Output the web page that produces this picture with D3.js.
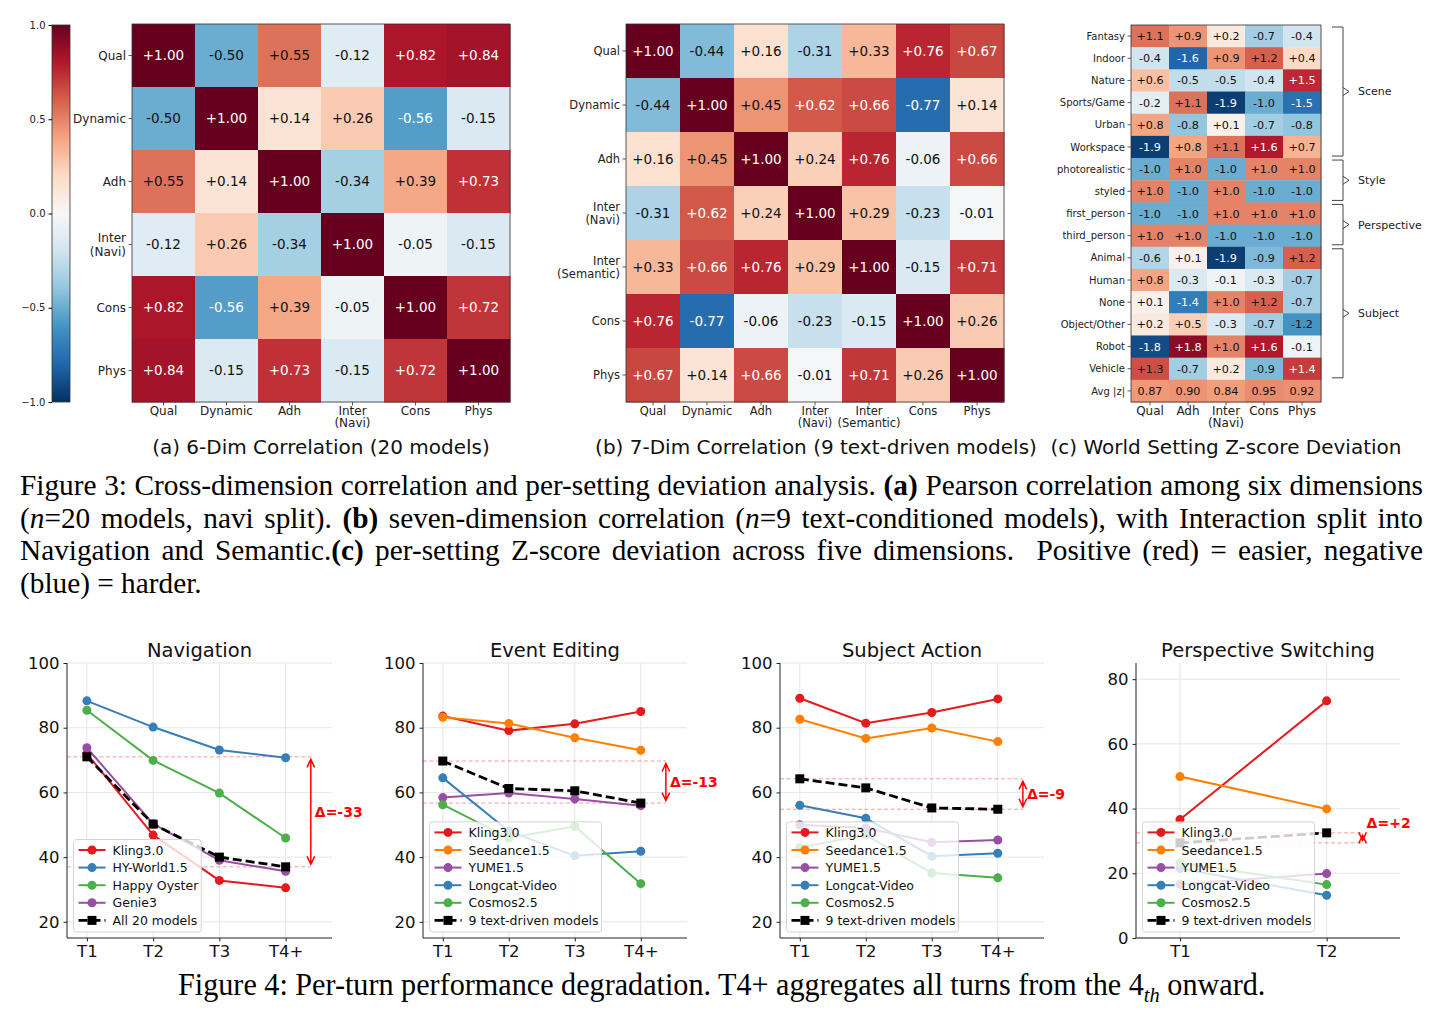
<!DOCTYPE html>
<html lang="en">
<head>
<meta charset="UTF-8">
<title>Figure 3 / Figure 4</title>
<script src="https://cdn.jsdelivr.net/npm/d3@7"></script>
<style>
  body { margin: 0; background: #fff; }
  #wrap { position: relative; width: 1443px; height: 1023px; overflow: hidden; }
  #wrap svg { position: absolute; left: 0; top: 0; }
  .cap { position: absolute; left: 20px; top: 469px; width: 1403px;
         font-family: "Liberation Serif", "Times New Roman", serif; font-size: 29.3px;
         line-height: 32.5px; color: #000; }
  .cap div { text-align: justify; text-align-last: justify; white-space: nowrap; }
  .cap div.last { text-align-last: left; }
</style>
</head>
<body>
<div id="wrap">
  <div class="cap">
    <div>Figure 3: Cross-dimension correlation and per-setting deviation analysis. <b>(a)</b> Pearson correlation among six dimensions</div>
    <div>(<i>n</i>=20 models, navi split). <b>(b)</b> seven-dimension correlation (<i>n</i>=9 text-conditioned models), with Interaction split into</div>
    <div>Navigation and Semantic.<b>(c)</b> per-setting Z-score deviation across five dimensions. &nbsp;Positive (red) = easier, negative</div>
    <div class="last">(blue) = harder.</div>
  </div>
</div>

<script>
// ---- data: (a) 6-dim correlation, 20 models
const dimsA = ["Qual", "Dynamic", "Adh", "Inter\n(Navi)", "Cons", "Phys"];
const corrA = [
  [ 1.00, -0.50,  0.55, -0.12,  0.82,  0.84],
  [-0.50,  1.00,  0.14,  0.26, -0.56, -0.15],
  [ 0.55,  0.14,  1.00, -0.34,  0.39,  0.73],
  [-0.12,  0.26, -0.34,  1.00, -0.05, -0.15],
  [ 0.82, -0.56,  0.39, -0.05,  1.00,  0.72],
  [ 0.84, -0.15,  0.73, -0.15,  0.72,  1.00]
];

// ---- data: (b) 7-dim correlation, 9 text-driven models
const dimsB = ["Qual", "Dynamic", "Adh", "Inter\n(Navi)", "Inter\n(Semantic)", "Cons", "Phys"];
const corrB = [
  [ 1.00, -0.44,  0.16, -0.31,  0.33,  0.76,  0.67],
  [-0.44,  1.00,  0.45,  0.62,  0.66, -0.77,  0.14],
  [ 0.16,  0.45,  1.00,  0.24,  0.76, -0.06,  0.66],
  [-0.31,  0.62,  0.24,  1.00,  0.29, -0.23, -0.01],
  [ 0.33,  0.66,  0.76,  0.29,  1.00, -0.15,  0.71],
  [ 0.76, -0.77, -0.06, -0.23, -0.15,  1.00,  0.26],
  [ 0.67,  0.14,  0.66, -0.01,  0.71,  0.26,  1.00]
];

// ---- data: (c) world setting z-score deviation
const zDims = ["Qual", "Adh", "Inter\n(Navi)", "Cons", "Phys"];
const zSettings = ["Fantasy", "Indoor", "Nature", "Sports/Game", "Urban", "Workspace",
  "photorealistic", "styled", "first_person", "third_person",
  "Animal", "Human", "None", "Object/Other", "Robot", "Vehicle"];
const zScores = [
  [ 1.1,  0.9,  0.2, -0.7, -0.4],
  [-0.4, -1.6,  0.9,  1.2,  0.4],
  [ 0.6, -0.5, -0.5, -0.4,  1.5],
  [-0.2,  1.1, -1.9, -1.0, -1.5],
  [ 0.8, -0.8,  0.1, -0.7, -0.8],
  [-1.9,  0.8,  1.1,  1.6,  0.7],
  [-1.0,  1.0, -1.0,  1.0,  1.0],
  [ 1.0, -1.0,  1.0, -1.0, -1.0],
  [-1.0, -1.0,  1.0,  1.0,  1.0],
  [ 1.0,  1.0, -1.0, -1.0, -1.0],
  [-0.6,  0.1, -1.9, -0.9,  1.2],
  [ 0.8, -0.3, -0.1, -0.3, -0.7],
  [ 0.1, -1.4,  1.0,  1.2, -0.7],
  [ 0.2,  0.5, -0.3, -0.7, -1.2],
  [-1.8,  1.8,  1.0,  1.6, -0.1],
  [ 1.3, -0.7,  0.2, -0.9,  1.4]
];
const avgAbsZ = [0.87, 0.90, 0.84, 0.95, 0.92];
const settingGroups = [
  {name: "Scene", from: 0, to: 5},
  {name: "Style", from: 6, to: 7},
  {name: "Perspective", from: 8, to: 9},
  {name: "Subject", from: 10, to: 15}
];

// ---- data: per-turn scores
const turns4 = ["T1", "T2", "T3", "T4+"];
const turns2 = ["T1", "T2"];
const navNames = ["Kling3.0", "HY-World1.5", "Happy Oyster", "Genie3", "All 20 models"];
const navValues = [
  [72.0, 46.8, 32.8, 30.5],
  [88.3, 80.2, 73.1, 70.7],
  [85.4, 69.9, 59.8, 45.9],
  [73.8, 50.3, 39.0, 35.6],
  [71.0, 50.2, 40.0, 37.0]
];
const textNames = ["Kling3.0", "Seedance1.5", "YUME1.5", "Longcat-Video", "Cosmos2.5", "9 text-driven models"];
const editValues = [
  [83.6, 79.1, 81.2, 85.0],
  [83.2, 81.3, 76.9, 73.0],
  [58.4, 59.8, 58.0, 55.9],
  [64.5, 48.0, 40.4, 41.8],
  [56.2, 45.9, 49.5, 31.8],
  [69.7, 61.2, 60.5, 56.7]
];
const actionValues = [
  [89.1, 81.4, 84.7, 88.9],
  [82.6, 76.7, 79.9, 75.7],
  [50.0, 49.0, 44.6, 45.3],
  [56.0, 52.0, 40.3, 41.2],
  [43.0, 46.8, 35.1, 33.6],
  [64.2, 61.4, 55.2, 54.8]
];
const perspValues = [
  [36.6, 73.3],
  [49.9, 39.9],
  [16.6, 19.9],
  [21.5, 13.2],
  [23.2, 16.5],
  [29.4, 32.5]
];
const deltaLabels = ["Δ=-33", "Δ=-13", "Δ=-9", "Δ=+2"];

// ---- styles
const FONT = "DejaVu Sans";
const navColors = ["#e41a1c", "#377eb8", "#4daf4a", "#984ea3", "#000"];
const textColors = ["#e41a1c", "#ff7f00", "#984ea3", "#377eb8", "#4daf4a", "#000"];
const rdbuR = ["#053061", "#2166ac", "#4393c3", "#92c5de", "#d1e5f0", "#f7f7f7",
               "#fddbc7", "#f4a582", "#d6604d", "#b2182b", "#67001f"];
function divergent(lim) {
  return d3.scaleLinear()
    .domain(d3.range(11).map(i => -lim + i * lim / 5))
    .range(rdbuR).clamp(true);
}

const svg = d3.select("#wrap").append("svg").attr("width", 1443).attr("height", 1023);

// ---------------- heatmaps ----------------
function heatmap(o) {
  const g = svg.append("g");
  const nr = o.values.length, nc = o.cols.length;
  const x = d3.scaleBand().domain(d3.range(nc)).range([o.x0, o.x0 + o.width]);
  const y = d3.scaleBand().domain(d3.range(nr)).range([o.y0, o.y0 + o.height]);
  const cells = [];
  o.values.forEach((row, i) => row.forEach((v, j) => cells.push({i, j, v})));

  g.selectAll("rect.cell").data(cells).join("rect").attr("class", "cell")
    .attr("x", d => x(d.j)).attr("y", d => y(d.i))
    .attr("width", x.bandwidth() + 0.5).attr("height", y.bandwidth() + 0.5)
    .attr("fill", d => o.fill(d));
  g.selectAll("text.val").data(cells).join("text").attr("class", "val")
    .attr("x", d => x(d.j) + x.bandwidth() / 2)
    .attr("y", d => y(d.i) + y.bandwidth() / 2)
    .attr("dy", "0.36em").attr("text-anchor", "middle")
    .attr("font-family", FONT).attr("font-size", o.valSize)
    .attr("fill", d => o.ink(d)).text(d => o.fmt(d));
  g.append("rect").attr("x", o.x0).attr("y", o.y0).attr("width", o.width).attr("height", o.height)
    .attr("fill", "none").attr("stroke", "#333").attr("stroke-width", 0.8);

  // row labels + ticks
  o.rows.forEach((lab, i) => {
    const cy = y(i) + y.bandwidth() / 2;
    g.append("line").attr("x1", o.x0 - 3.5).attr("x2", o.x0).attr("y1", cy).attr("y2", cy)
      .attr("stroke", "#333").attr("stroke-width", 0.8);
    const lines = lab.split("\n");
    const t = g.append("text").attr("text-anchor", "end").attr("font-family", FONT)
      .attr("font-size", o.rowSize).attr("fill", "#222");
    lines.forEach((s, k) => {
      t.append("tspan").attr("x", o.x0 - 6)
        .attr("y", cy + (k - (lines.length - 1) / 2) * o.rowSize * 1.15 + o.rowSize * 0.36).text(s);
    });
  });
  // column labels + ticks
  o.cols.forEach((lab, j) => {
    const cx = x(j) + x.bandwidth() / 2, by = o.y0 + o.height;
    g.append("line").attr("x1", cx).attr("x2", cx).attr("y1", by).attr("y2", by + 3.5)
      .attr("stroke", "#333").attr("stroke-width", 0.8);
    const t = g.append("text").attr("text-anchor", "middle").attr("font-family", FONT)
      .attr("font-size", o.colSize).attr("fill", "#222");
    lab.split("\n").forEach((s, k) => {
      t.append("tspan").attr("x", cx).attr("y", by + 12.5 + k * o.colSize * 1.05).text(s);
    });
  });
  return {x, y};
}

const colA = divergent(1);
heatmap({
  x0: 132, y0: 24, width: 378, height: 378, rows: dimsA, cols: dimsA, values: corrA,
  fill: d => colA(d.v), ink: d => Math.abs(d.v) > 0.555 ? "#fff" : "#111",
  fmt: d => (d.v >= 0 ? "+" : "-") + Math.abs(d.v).toFixed(2),
  valSize: 13.5, rowSize: 12, colSize: 12
});
heatmap({
  x0: 626, y0: 24, width: 378, height: 378, rows: dimsB, cols: dimsB, values: corrB,
  fill: d => colA(d.v), ink: d => Math.abs(d.v) > 0.555 ? "#fff" : "#111",
  fmt: d => (d.v >= 0 ? "+" : "-") + Math.abs(d.v).toFixed(2),
  valSize: 13.5, rowSize: 11.5, colSize: 11.5
});

const colC = divergent(2);
const zRowsAll = zScores.concat([avgAbsZ]);
const hmC = heatmap({
  x0: 1131, y0: 25, width: 190, height: 377, rows: zSettings.concat(["Avg |z|"]), cols: zDims,
  values: zRowsAll,
  fill: d => colC(d.v),
  ink: d => (d.i < zScores.length && Math.abs(d.v) > 1.35) ? "#fff" : "#111",
  fmt: d => d.i < zScores.length ? (d.v >= 0 ? "+" : "-") + Math.abs(d.v).toFixed(1) : d.v.toFixed(2),
  valSize: 11.2, rowSize: 10, colSize: 12
});

// brackets for setting groups
settingGroups.forEach(gr => {
  const y1 = hmC.y(gr.from) + 2, y2 = hmC.y(gr.to) + hmC.y.bandwidth() - 2;
  const xm = 1343, mid = (y1 + y2) / 2;
  svg.append("path")
    .attr("d", `M1332,${y1}H${xm}V${y2}H1332M${xm},${mid - 4}L${xm + 6},${mid}L${xm},${mid + 4}`)
    .attr("fill", "none").attr("stroke", "#444").attr("stroke-width", 1);
  svg.append("text").attr("x", 1358).attr("y", mid).attr("dy", "0.36em")
    .attr("font-family", FONT).attr("font-size", 11).attr("fill", "#222").text(gr.name);
});

// colorbar for (a)
(function () {
  const cb = {x: 52, y: 25, w: 18, h: 377};
  const grad = svg.append("defs").append("linearGradient").attr("id", "cbgrad")
    .attr("x1", 0).attr("y1", 1).attr("x2", 0).attr("y2", 0);
  rdbuR.forEach((c, i) => grad.append("stop").attr("offset", i / 10).attr("stop-color", c));
  svg.append("rect").attr("x", cb.x).attr("y", cb.y).attr("width", cb.w).attr("height", cb.h)
    .attr("fill", "url(#cbgrad)").attr("stroke", "#333").attr("stroke-width", 0.8);
  const s = d3.scaleLinear().domain([-1, 1]).range([cb.y + cb.h, cb.y]);
  const ax = svg.append("g").attr("transform", `translate(${cb.x},0)`)
    .call(d3.axisLeft(s).tickValues([-1, -0.5, 0, 0.5, 1]).tickFormat(d3.format(".1f"))
      .tickSize(3.5).tickSizeOuter(0));
  ax.select(".domain").remove();
  ax.selectAll("text").attr("font-family", FONT).attr("font-size", 10).attr("fill", "#222");
})();

// sub-captions
[["(a) 6-Dim Correlation (20 models)", 321],
 ["(b) 7-Dim Correlation (9 text-driven models)", 816],
 ["(c) World Setting Z-score Deviation", 1226]].forEach(([t, cx]) => {
  svg.append("text").attr("x", cx).attr("y", 454).attr("text-anchor", "middle")
    .attr("font-family", FONT).attr("font-size", 20).attr("fill", "#111").text(t);
});

// ---------------- line charts ----------------
function lineChart(o) {
  const g = svg.append("g");
  const idx = d3.range(o.turns.length);
  const x = d3.scaleLinear().domain(o.xdom).range([o.left, o.right]);
  const y = d3.scaleLinear().domain(o.ydom).range([o.bottom, o.top]);

  // grid
  g.selectAll("line.gy").data(o.yticks).join("line").attr("class", "gy")
    .attr("x1", o.left).attr("x2", o.right).attr("y1", d => y(d)).attr("y2", d => y(d))
    .attr("stroke", "#e3e3e3").attr("stroke-width", 0.9);
  g.selectAll("line.gx").data(idx).join("line").attr("class", "gx")
    .attr("x1", d => x(d)).attr("x2", d => x(d)).attr("y1", o.top).attr("y2", o.bottom)
    .attr("stroke", "#e3e3e3").attr("stroke-width", 0.9);

  // axes
  const ay = g.append("g").attr("transform", `translate(${o.left},0)`)
    .call(d3.axisLeft(y).tickValues(o.yticks).tickSize(3.5).tickSizeOuter(0).tickPadding(4));
  const ax = g.append("g").attr("transform", `translate(0,${o.bottom})`)
    .call(d3.axisBottom(x).tickValues(idx).tickFormat(i => o.turns[i]).tickSize(3.5).tickSizeOuter(0).tickPadding(4));
  [ay, ax].forEach(a => {
    a.selectAll("text").attr("font-family", FONT).attr("font-size", 16.5).attr("fill", "#111");
    a.selectAll("line, path").attr("stroke", "#222").attr("stroke-width", 1);
  });
  ay.select(".domain").attr("d", `M0,${o.top}V${o.bottom}`);
  ax.select(".domain").attr("d", `M${o.left},0H${o.right}`);

  // title
  g.append("text").attr("x", (o.left + o.right) / 2).attr("y", o.top - 6)
    .attr("text-anchor", "middle").attr("font-family", FONT).attr("font-size", 19.5)
    .attr("fill", "#111").text(o.title);

  // reference lines at mean T1 / last
  const avg = o.values[o.values.length - 1];
  const a0 = avg[0], a1 = avg[avg.length - 1];
  const xa = x(o.arrowAt);
  [a0, a1].forEach(v => {
    g.append("line").attr("x1", o.left).attr("x2", xa).attr("y1", y(v)).attr("y2", y(v))
      .attr("stroke", "#ff0000").attr("stroke-opacity", 0.4).attr("stroke-width", 1)
      .attr("stroke-dasharray", "4,2.5");
  });

  // series
  const line = d3.line().x((d, i) => x(i)).y(d => y(d));
  o.values.forEach((vals, k) => {
    const isAvg = k === o.values.length - 1;
    const c = o.colors[k];
    g.append("path").datum(vals).attr("d", line).attr("fill", "none").attr("stroke", c)
      .attr("stroke-width", isAvg ? 2.8 : 2).attr("stroke-dasharray", isAvg ? "9,4" : null);
    if (isAvg) {
      g.selectAll(null).data(vals).join("rect")
        .attr("x", (d, i) => x(i) - 4.5).attr("y", d => y(d) - 4.5)
        .attr("width", 9).attr("height", 9).attr("fill", c);
    } else {
      g.selectAll(null).data(vals).join("circle")
        .attr("cx", (d, i) => x(i)).attr("cy", d => y(d)).attr("r", 4.5).attr("fill", c);
    }
  });

  // double arrow
  const yt = Math.min(y(a0), y(a1)) + 2.5, yb = Math.max(y(a0), y(a1)) - 2.5;
  g.append("path")
    .attr("d", `M${xa},${yt}V${yb}M${xa - 3.8},${yt + 8}L${xa},${yt}L${xa + 3.8},${yt + 8}` +
               `M${xa - 3.8},${yb - 8}L${xa},${yb}L${xa + 3.8},${yb - 8}`)
    .attr("fill", "none").attr("stroke", "#ff0000").attr("stroke-width", 1.5);
  g.append("text").attr("x", xa + 4).attr("y", y(o.labelAt != null ? o.labelAt : (a0 + a1) / 2))
    .attr("dy", "0.36em").attr("font-family", FONT).attr("font-size", 14)
    .attr("font-weight", "bold").attr("fill", "#ff0000").text(o.delta);

  // legend (lower left, translucent frame)
  const n = o.names.length, step = 17.6;
  const bh = n * step + 4.5, bx = o.left + 6.5, by = o.bottom - 6 - bh;
  const box = g.append("rect").attr("x", bx).attr("y", by).attr("height", bh).attr("rx", 3)
    .attr("fill", "#fff").attr("fill-opacity", 0.8).attr("stroke", "#d0d0d0").attr("stroke-width", 0.9);
  let maxW = 0;
  o.names.forEach((nm, k) => {
    const cy = by + 10.5 + k * step, lx = bx + 5;
    const isAvg = k === n - 1, c = o.colors[k];
    g.append("line").attr("x1", lx).attr("x2", lx + 27).attr("y1", cy).attr("y2", cy)
      .attr("stroke", c).attr("stroke-width", isAvg ? 2.8 : 2)
      .attr("stroke-dasharray", isAvg ? "9,4" : null);
    if (isAvg) g.append("rect").attr("x", lx + 13.5 - 4.5).attr("y", cy - 4.5)
      .attr("width", 9).attr("height", 9).attr("fill", c);
    else g.append("circle").attr("cx", lx + 13.5).attr("cy", cy).attr("r", 4.5).attr("fill", c);
    const t = g.append("text").attr("x", lx + 34).attr("y", cy).attr("dy", "0.36em")
      .attr("font-family", FONT).attr("font-size", 12.5).attr("fill", "#111").text(nm);
    maxW = Math.max(maxW, t.node().getComputedTextLength());
  });
  box.attr("width", 39 + maxW + 3);
}

lineChart({title: "Navigation", left: 67, right: 332, top: 663, bottom: 938,
  xdom: [-0.3, 3.7], ydom: [15, 100], yticks: [20, 40, 60, 80, 100],
  turns: turns4, names: navNames, values: navValues, colors: navColors,
  arrowAt: 3.38, delta: deltaLabels[0]});
lineChart({title: "Event Editing", left: 423, right: 687, top: 663, bottom: 938,
  xdom: [-0.3, 3.7], ydom: [15, 100], yticks: [20, 40, 60, 80, 100],
  turns: turns4, names: textNames, values: editValues, colors: textColors,
  arrowAt: 3.38, delta: deltaLabels[1]});
lineChart({title: "Subject Action", left: 780, right: 1044, top: 663, bottom: 938,
  xdom: [-0.3, 3.7], ydom: [15, 100], yticks: [20, 40, 60, 80, 100],
  turns: turns4, names: textNames, values: actionValues, colors: textColors,
  arrowAt: 3.38, delta: deltaLabels[2]});
lineChart({title: "Perspective Switching", left: 1136, right: 1400, top: 663, bottom: 938,
  xdom: [-0.3, 1.5], ydom: [0, 85], yticks: [0, 20, 40, 60, 80],
  turns: turns2, names: textNames, values: perspValues, colors: textColors,
  arrowAt: 1.245, labelAt: 35.5, delta: deltaLabels[3]});

// Figure 4 caption, squeezed to the printed width
(function () {
  const t = svg.append("text").attr("x", 0).attr("y", 0)
    .attr("font-family", "Liberation Serif").attr("font-size", 31).attr("fill", "#000");
  t.append("tspan").text("Figure 4: Per-turn performance degradation. T4+ aggregates all turns from the 4");
  t.append("tspan").attr("dy", 7).attr("font-size", 21).attr("font-style", "italic").text("th");
  t.append("tspan").attr("dy", -7).text(" onward.");
  const w = t.node().getBBox().width;
  t.attr("transform", `translate(178,995) scale(${1088 / w},1)`);
})();
</script>
</body>
</html>
